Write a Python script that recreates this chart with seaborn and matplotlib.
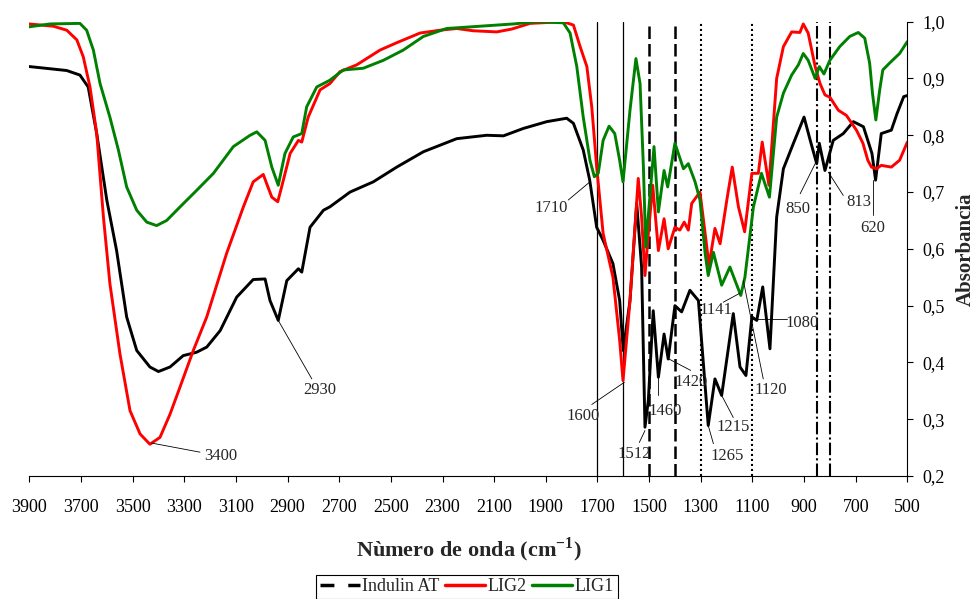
"""FTIR spectra of Indulin AT, LIG2 and LIG1 with marked bands."""

import matplotlib
matplotlib.use("Agg")
import matplotlib.pyplot as plt
from matplotlib.lines import Line2D
import pandas as pd
import seaborn as sns

# ---------------------------------------------------------------------------
# data (wavenumber in cm-1, absorbance)

wn_ind = [3900, 3755, 3704, 3672, 3639, 3600, 3562, 3523, 3484, 3433,
          3400, 3355, 3304, 3252, 3213, 3161, 3097, 3033, 2987, 2968,
          2936, 2903, 2858, 2845, 2813, 2761, 2736, 2658, 2568, 2477,
          2374, 2245, 2129, 2064, 1987, 1896, 1819, 1793, 1755, 1730,
          1703, 1678, 1640, 1614, 1600, 1574, 1548, 1529, 1516, 1503,
          1484, 1464, 1442, 1426, 1400, 1374, 1342, 1309, 1271, 1245,
          1219, 1174, 1148, 1125, 1102, 1083, 1060, 1032, 1006, 980,
          941, 900, 876, 851, 841, 819, 787, 748, 709, 670,
          637, 623, 601, 562, 540, 514, 500]
abs_ind = [0.921, 0.914, 0.906, 0.885, 0.803, 0.686, 0.597, 0.480, 0.421, 0.392,
           0.384, 0.392, 0.412, 0.418, 0.427, 0.456, 0.515, 0.546, 0.547, 0.509,
           0.474, 0.544, 0.565, 0.559, 0.638, 0.668, 0.674, 0.700, 0.718, 0.744,
           0.771, 0.794, 0.800, 0.799, 0.812, 0.824, 0.830, 0.821, 0.774, 0.721,
           0.638, 0.615, 0.574, 0.509, 0.421, 0.509, 0.680, 0.568, 0.286, 0.333,
           0.491, 0.374, 0.450, 0.406, 0.500, 0.489, 0.527, 0.509, 0.289, 0.371,
           0.342, 0.486, 0.392, 0.377, 0.480, 0.474, 0.533, 0.424, 0.656, 0.741,
           0.786, 0.832, 0.791, 0.750, 0.786, 0.738, 0.791, 0.803, 0.824, 0.815,
           0.768, 0.721, 0.803, 0.809, 0.838, 0.868, 0.870]

wn_lig2 = [3900, 3807, 3755, 3716, 3691, 3665, 3639, 3613, 3588, 3549,
           3510, 3471, 3433, 3394, 3355, 3317, 3265, 3213, 3136, 3071,
           3033, 2994, 2981, 2961, 2938, 2923, 2890, 2858, 2845, 2820,
           2774, 2736, 2697, 2632, 2542, 2477, 2387, 2310, 2245, 2181,
           2090, 2032, 1961, 1832, 1793, 1767, 1741, 1722, 1703, 1678,
           1640, 1614, 1601, 1574, 1542, 1529, 1516, 1503, 1486, 1464,
           1442, 1426, 1400, 1381, 1364, 1348, 1335, 1303, 1283, 1268,
           1245, 1225, 1199, 1178, 1154, 1130, 1102, 1077, 1062, 1036,
           1006, 980, 948, 916, 903, 884, 857, 838, 819, 800,
           767, 736, 697, 672, 653, 639, 620, 601, 562, 530,
           500]
abs_lig2 = [0.996, 0.992, 0.985, 0.968, 0.938, 0.885, 0.803, 0.656, 0.539, 0.415,
            0.315, 0.274, 0.256, 0.268, 0.309, 0.356, 0.421, 0.480, 0.592, 0.674,
            0.718, 0.731, 0.715, 0.691, 0.683, 0.709, 0.768, 0.791, 0.788, 0.832,
            0.880, 0.891, 0.912, 0.924, 0.950, 0.963, 0.980, 0.985, 0.988, 0.984,
            0.982, 0.987, 0.997, 1.000, 0.994, 0.956, 0.921, 0.850, 0.744, 0.627,
            0.550, 0.439, 0.368, 0.509, 0.724, 0.656, 0.553, 0.627, 0.712, 0.597,
            0.653, 0.600, 0.638, 0.633, 0.647, 0.633, 0.680, 0.700, 0.627, 0.571,
            0.636, 0.609, 0.686, 0.744, 0.674, 0.630, 0.733, 0.733, 0.788, 0.712,
            0.900, 0.956, 0.982, 0.981, 0.996, 0.980, 0.921, 0.891, 0.871, 0.867,
            0.844, 0.835, 0.809, 0.786, 0.756, 0.744, 0.741, 0.747, 0.744, 0.756,
            0.788]

wn_lig1 = [3900, 3820, 3704, 3678, 3652, 3626, 3588, 3555, 3523, 3484,
           3445, 3407, 3368, 3316, 3252, 3187, 3110, 3045, 3019, 2987,
           2961, 2936, 2910, 2878, 2845, 2826, 2787, 2736, 2684, 2607,
           2529, 2452, 2374, 2284, 2155, 2026, 1935, 1832, 1806, 1780,
           1755, 1729, 1712, 1697, 1678, 1655, 1633, 1614, 1601, 1574,
           1551, 1535, 1522, 1513, 1496, 1481, 1464, 1442, 1428, 1400,
           1367, 1348, 1322, 1303, 1283, 1271, 1251, 1219, 1187, 1167,
           1145, 1129, 1096, 1065, 1034, 1006, 980, 948, 922, 903,
           884, 857, 841, 823, 800, 762, 723, 690, 665, 646,
           635, 622, 607, 595, 569, 530, 500]
abs_lig1 = [0.991, 0.996, 0.997, 0.985, 0.950, 0.891, 0.832, 0.774, 0.709, 0.668,
            0.647, 0.641, 0.650, 0.674, 0.703, 0.733, 0.780, 0.800, 0.806, 0.791,
            0.744, 0.712, 0.768, 0.797, 0.803, 0.850, 0.885, 0.897, 0.915, 0.918,
            0.932, 0.950, 0.974, 0.988, 0.992, 0.996, 1.000, 0.998, 0.980, 0.921,
            0.832, 0.756, 0.727, 0.733, 0.791, 0.816, 0.803, 0.756, 0.718, 0.844,
            0.935, 0.891, 0.744, 0.603, 0.697, 0.780, 0.665, 0.738, 0.709, 0.786,
            0.741, 0.750, 0.718, 0.686, 0.592, 0.553, 0.594, 0.536, 0.568, 0.544,
            0.518, 0.550, 0.674, 0.733, 0.691, 0.832, 0.874, 0.906, 0.924, 0.944,
            0.932, 0.900, 0.921, 0.908, 0.932, 0.956, 0.974, 0.981, 0.971, 0.927,
            0.874, 0.827, 0.880, 0.915, 0.927, 0.944, 0.965]

series_names = ["Indulin AT", "LIG2", "LIG1"]
series_colors = ["black", "#ff0000", "#008000"]

# marker lines (cm-1) grouped by line style
solid_lines = [1700, 1600]
dashed_lines = [1500, 1400]
dotted_lines = [1300, 1100]
dashdot_lines = [850, 800]

# band labels: text, point on curve, end of leader line, text centre
band_labels = ["3400", "2930", "1710", "1600", "1512", "1460", "1420",
               "1265", "1215", "1141", "1120", "1080", "850", "813", "620"]
band_peak = [(3426, 0.258), (2936, 0.474), (1729, 0.718), (1596, 0.365),
             (1516, 0.280), (1467, 0.374), (1423, 0.406), (1271, 0.289),
             (1219, 0.342), (1148, 0.522), (1135, 0.544), (1103, 0.477),
             (857, 0.750), (806, 0.735), (634, 0.721)]
band_lead = [(3239, 0.242), (2806, 0.371), (1813, 0.686), (1722, 0.326),
             (1538, 0.259), (1467, 0.342), (1339, 0.386), (1251, 0.257),
             (1174, 0.303), (1213, 0.506), (1058, 0.371), (967, 0.477),
             (915, 0.697), (748, 0.694), (634, 0.659)]
band_text = [(3159, 0.235), (2774, 0.352), (1879, 0.672), (1756, 0.305),
             (1556, 0.239), (1436, 0.314), (1338, 0.365), (1196, 0.236),
             (1175, 0.286), (1241, 0.493), (1030, 0.352), (908, 0.470),
             (923, 0.671), (686, 0.683), (633, 0.636)]

x_ticks = list(range(3900, 400, -200))
y_ticks = [0.2, 0.3, 0.4, 0.5, 0.6, 0.7, 0.8, 0.9, 1.0]
y_tick_labels = ["0,2", "0,3", "0,4", "0,5", "0,6", "0,7", "0,8", "0,9", "1,0"]

# ---------------------------------------------------------------------------

sns.set_theme(style="ticks")
plt.rcParams["font.family"] = ["Liberation Serif", "DejaVu Serif"]
plt.rcParams["mathtext.fontset"] = "custom"
plt.rcParams["mathtext.rm"] = "Liberation Serif"
plt.rcParams["mathtext.bf"] = "Liberation Serif:bold"

df = pd.concat([
    pd.DataFrame({"wn": wn_ind, "absorb": abs_ind, "sample": "Indulin AT"}),
    pd.DataFrame({"wn": wn_lig2, "absorb": abs_lig2, "sample": "LIG2"}),
    pd.DataFrame({"wn": wn_lig1, "absorb": abs_lig1, "sample": "LIG1"}),
], ignore_index=True)

fig = plt.figure(figsize=(9.77, 5.99), dpi=100)
ax = fig.add_axes([0.030, 0.2053, 0.8987, 0.7585])

# marker lines first so the spectra sit on top
for x in solid_lines:
    ax.axvline(x, color="black", lw=0.9, zorder=1)
for x in dashed_lines:
    ax.axvline(x, color="black", lw=1.8, ls=(0, (5, 2)), zorder=1)
for x in dotted_lines:
    ax.axvline(x, color="black", lw=1.5, ls=(0, (1, 1.4)), zorder=1)
for x in dashdot_lines:
    ax.axvline(x, color="black", lw=1.5, ls=(0, (6, 1.5, 1, 1.5)), zorder=1)

sns.lineplot(
    data=df, x="wn", y="absorb", hue="sample",
    hue_order=series_names, palette=dict(zip(series_names, series_colors)),
    estimator=None, sort=False, lw=2.1, legend=False, ax=ax, zorder=3,
)

for lab, p, q, t in zip(band_labels, band_peak, band_lead, band_text):
    ax.plot([p[0], q[0]], [p[1], q[1]], color="black", lw=0.6, zorder=4)
    ax.text(t[0], t[1], lab, ha="center", va="center", fontsize=12, zorder=5)

ax.set_xlim(3900, 500)
ax.set_ylim(0.2, 1.0)
ax.set_xticks(x_ticks)
ax.set_yticks(y_ticks)
ax.set_yticklabels(y_tick_labels)
ax.yaxis.tick_right()
ax.yaxis.set_label_position("right")
for side in ("left", "top"):
    ax.spines[side].set_visible(False)
for side in ("bottom", "right"):
    ax.spines[side].set_linewidth(0.8)
    ax.spines[side].set_color("black")
ax.tick_params(axis="x", direction="out", length=4.5, width=0.8, pad=12,
               labelsize=13, colors="black")
ax.tick_params(axis="y", direction="out", length=4.5, width=0.8, pad=6,
               labelsize=13, colors="black")

ax.set_xlabel(r"Nùmero de onda (cm$^{\mathbf{-1}}$)", fontsize=16,
              fontweight="bold", labelpad=14)
ax.set_ylabel("Absorbancia", fontsize=15, fontweight="bold", labelpad=8)

handles = [
    Line2D([0], [0], color="black", lw=2.5, ls=(0, (4, 4))),
    Line2D([0], [0], color="#ff0000", lw=2.5),
    Line2D([0], [0], color="#008000", lw=2.5),
]
leg = fig.legend(handles, series_names, loc="lower center",
                 bbox_to_anchor=(0.478, 0.0), ncol=3, frameon=True,
                 fancybox=False, edgecolor="black", framealpha=1, fontsize=13,
                 handlelength=2.2, handletextpad=0.15, columnspacing=0.3,
                 borderpad=0.2, borderaxespad=0)
leg.get_frame().set_linewidth(0.8)

fig.savefig("out.png", dpi=100)
